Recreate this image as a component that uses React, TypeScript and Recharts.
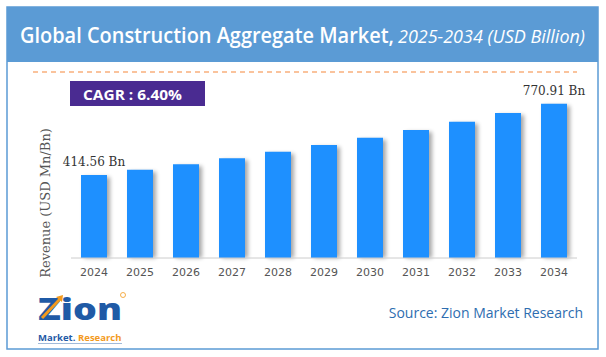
import React from "react";
import { BarChart, Bar, XAxis, YAxis, Rectangle } from "recharts";

const years = ["2024", "2025", "2026", "2027", "2028", "2029", "2030", "2031", "2032", "2033", "2034"];
const revenue = [414.56, 441, 469, 499, 531, 565, 601, 640, 681, 725, 770.91];
const labelledIndexes = [0, 10];

const titleBold = "Global Construction Aggregate Market,";
const titleItalic = "2025-2034 (USD Billion)";
const cagrText = "CAGR : 6.40%";
const sourceText = "Source: Zion Market Research";
const axisLabel = "Revenue (USD Mn/Bn)";

const data = years.map((y, i) => ({ year: y, value: revenue[i] }));

const W = 606;
const H = 357;
const FRAME = "#5B9BD5";
const BAR = "#1E90FF";

const ShadowBar = (props: any) => {
  const { x, y, width, height } = props;
  return (
    <g>
      <rect x={x + 3} y={y + 2} width={width} height={height - 2} fill="#000" opacity={0.35} filter="url(#barBlur)" />
      <Rectangle x={x} y={y} width={width} height={height} fill={BAR} />
    </g>
  );
};

const renderLabel = (props: any) => {
  const { x, y, width, value, index } = props;
  if (!labelledIndexes.includes(index)) return null;
  return (
    <text
      x={x + width / 2}
      y={y - 9}
      textAnchor="middle"
      fontFamily="DejaVu Serif"
      fontSize={12}
      fill="#333"
    >
      {Number(value).toFixed(2) + " Bn"}
    </text>
  );
};

const Logo = () => (
  <g>
    <text x={38} y={320} fontFamily="Open Sans" fontWeight={800} fontSize={30} fill="#1F5AA6" textLength={84} lengthAdjust="spacingAndGlyphs">
      Zion
    </text>
    <polyline points="42,318 60,299" stroke="#F39A1E" strokeWidth={3} fill="none" />
    <polygon points="56,297 63,295 62,302" fill="#F39A1E" />
    <text x={38} y={341} fontFamily="Open Sans" fontWeight={700} fontSize={9.5} fill="#1F5AA6">
      Market.
    </text>
    <text x={78} y={341} fontFamily="Open Sans" fontWeight={700} fontSize={9.5} fill="#F39A1E">
      Research
    </text>
    <line x1={38} y1={343.5} x2={122} y2={343.5} stroke="#8aa9cf" strokeWidth={0.8} />
    <circle cx={123} cy={295} r={2.5} fill="none" stroke="#F39A1E" strokeWidth={0.8} />
  </g>
);

export default function App() {
  return (
    <div style={{ position: "absolute", left: 0, top: 0, width: W, height: H, background: "#fff" }}>
      <svg width={W} height={H} style={{ position: "absolute", left: 0, top: 0 }}>
        <defs>
          <filter id="barBlur" x="-50%" y="-10%" width="200%" height="120%">
            <feGaussianBlur stdDeviation="2" />
          </filter>
        </defs>
        <rect x={7} y={7} width={591} height={342} fill="#fff" stroke={FRAME} strokeWidth={1.5} />
        <rect x={7} y={7} width={591} height={55} fill={FRAME} />
        <text x={20} y={43} fontFamily="Open Sans" fontWeight={600} fontSize={21} fill="#fff" textLength={374} lengthAdjust="spacingAndGlyphs">
          {titleBold}
        </text>
        <text x={398} y={43} fontFamily="Open Sans" fontStyle="italic" fontSize={19} fill="#fff" textLength={187} lengthAdjust="spacingAndGlyphs">
          {titleItalic}
        </text>
        <line x1={33} y1={72} x2={577} y2={72} stroke="#F5883A" strokeWidth={1.2} strokeDasharray="5 4" />
        <rect x={70} y={81} width={135} height={25} fill="#4A2B91" />
        <text x={83} y={100} fontFamily="Open Sans" fontWeight={700} fontSize={15} fill="#fff" textLength={99} lengthAdjust="spacingAndGlyphs">
          {cagrText}
        </text>
        <text
          x={0}
          y={0}
          transform="translate(50,203) rotate(-90)"
          textAnchor="middle"
          fontFamily="DejaVu Serif"
          fontSize={13}
          fill="#555"
        >
          {axisLabel}
        </text>
        <text x={583} y={318} textAnchor="end" fontFamily="Open Sans" fontSize={14} fill="#2E6DB0">
          {sourceText}
        </text>
        <Logo />
      </svg>
      <div style={{ position: "absolute", left: 0, top: 0 }}>
        <BarChart width={W} height={H} data={data} margin={{ top: 98, right: 29, bottom: 69, left: 71 }} barSize={26}>
          <YAxis hide domain={[0, 800]} />
          <XAxis
            dataKey="year"
            axisLine={{ stroke: "#ccc" }}
            tickLine={false}
            height={30}
            tick={{ fontFamily: "DejaVu Sans", fontSize: 11, fill: "#555", dy: 2 }}
            interval={0}
          />
          <Bar dataKey="value" isAnimationActive={false} shape={ShadowBar} label={renderLabel} />
        </BarChart>
      </div>
    </div>
  );
}
